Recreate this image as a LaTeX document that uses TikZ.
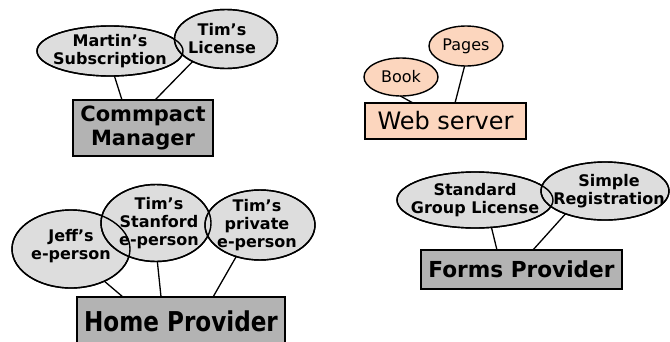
\documentclass[tikz,border=0pt]{standalone}
\usepackage{fontspec}
\setmainfont{DejaVu Sans}
\usetikzlibrary{shapes.geometric,calc}
\definecolor{bubblegray}{RGB}{221,221,221}
\definecolor{boxgray}{RGB}{179,179,179}
\definecolor{peach}{RGB}{252,214,190}
\begin{document}
\begin{tikzpicture}[x=1pt,y=-1pt,
  outline/.style={line width=1.4pt, draw=black},
  bubble/.style={ellipse, outline, fill=bubblegray, inner sep=0pt, outer sep=0pt},
  pbubble/.style={bubble, fill=peach},
  btxt/.style={font=\fontsize{16}{18}\selectfont\bfseries, align=center, inner sep=0pt},
  ptxt/.style={font=\fontsize{16}{18}\selectfont, inner sep=0pt},
  gbox/.style={rectangle, outline, fill=boxgray, inner sep=0pt, outer sep=0pt,
    font=\fontsize{21}{24}\selectfont\bfseries, align=center},
  pbox/.style={rectangle, outline, fill=peach, inner sep=0pt, outer sep=0pt,
    font=\fontsize{24}{26}\selectfont},
  link/.style={line width=1.3pt}
]
\useasboundingbox (0,0) rectangle (670,341);
\clip (0,0) rectangle (670,341);

% Commpact Manager group
\node[gbox, minimum width=140pt, minimum height=56pt] (cm) at (143,128) {Commpact\\Manager};
\node[bubble, minimum width=146pt, minimum height=50pt,
  label={[btxt]center:{Martin’s\\Subscription}}] (ms) at (110,51) {};
\node[bubble, minimum width=103pt, minimum height=59pt,
  label={[btxt, xshift=-4pt]center:{Tim’s\\License}}] (tl) at (226,39) {};
\draw[link] (ms.-80) -- ($(cm.north west)!0.35!(cm.north east)$);
\draw[link] (tl.214) -- ($(cm.north west)!0.586!(cm.north east)$);

% Web server group
\node[pbox, minimum width=161pt, minimum height=36pt] (ws) at (445.5,121) {Web server};
\node[pbubble, minimum width=74pt, minimum height=38pt,
  label={[ptxt]center:Book}] (bk) at (401,77) {};
\node[pbubble, minimum width=74pt, minimum height=40pt,
  label={[ptxt]center:Pages}] (pg) at (466,46) {};
\draw[link] (bk.-92) -- ($(ws.north west)!0.298!(ws.north east)$);
\draw[link] (pg.-94) -- ($(ws.north west)!0.559!(ws.north east)$);

% Home Provider group
\node[gbox, minimum width=208pt, minimum height=48pt] (hp) at (181,321)
  {\scalebox{1.1}[1.3]{Home Provider}};
\node[bubble, minimum width=118pt, minimum height=78pt,
  label={[btxt, yshift=3pt]center:{Jeff’s\\e-person}}] (je) at (71,249) {};
\node[bubble, minimum width=110pt, minimum height=77pt,
  label={[btxt, xshift=3pt]center:{Tim’s\\Stanford\\e-person}}] (ts) at (156,223) {};
\node[bubble, minimum width=110pt, minimum height=70pt,
  label={[btxt, xshift=-3pt]center:{Tim’s\\private\\e-person}}] (tp) at (260,225) {};
\draw[link] (je.-44) -- ($(hp.north west)!0.221!(hp.north east)$);
\draw[link] (ts.-88) -- ($(hp.north west)!0.404!(hp.north east)$);
\draw[link] (tp.-127) -- ($(hp.north west)!0.654!(hp.north east)$);

% Forms Provider group
\node[gbox, minimum width=201pt, minimum height=39pt] (fp) at (521.5,269.5)
  {\scalebox{1.03}[1.05]{Forms Provider}};
\node[bubble, minimum width=156pt, minimum height=56pt,
  label={[btxt]center:{Standard\\Group License}}] (sg) at (475,200) {};
\node[bubble, minimum width=128pt, minimum height=58pt,
  label={[btxt, xshift=4pt]center:{Simple\\Registration}}] (sr) at (605,191) {};
\draw[link] (sg.-59) -- ($(fp.north west)!0.378!(fp.north east)$);
\draw[link] (sr.210) -- ($(fp.north west)!0.557!(fp.north east)$);

% outlines of overlapping bubbles stay visible on top of the fills
\foreach \b in {ms,tl,je,ts,tp,sg,sr}
  \draw[outline] let \p1=($(\b.east)-(\b.center)$), \p2=($(\b.north)-(\b.center)$) in
    (\b.center) ellipse [x radius=\x1, y radius=\y2];
\end{tikzpicture}
\end{document}
